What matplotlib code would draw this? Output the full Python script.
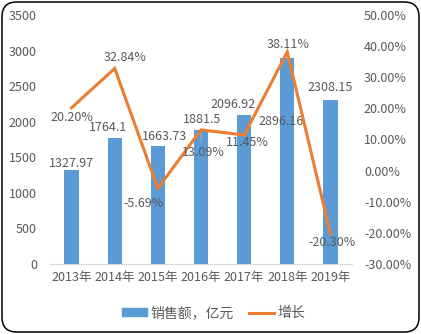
import matplotlib
matplotlib.use("Agg")
import matplotlib.pyplot as plt
from matplotlib.patches import FancyBboxPatch, Patch
from matplotlib.lines import Line2D

plt.rcParams['font.family'] = ['Noto Sans CJK SC', 'DejaVu Sans']

years = ["2013年", "2014年", "2015年", "2016年", "2017年", "2018年", "2019年"]
sales = [1327.97, 1764.1, 1663.73, 1881.5, 2096.92, 2896.16, 2308.15]
growth = [0.2020, 0.3284, -0.0569, 0.1309, 0.1145, 0.3811, -0.2030]
sales_labels = ["1327.97", "1764.1", "1663.73", "1881.5", "2096.92", "2896.16", "2308.15"]
growth_labels = ["20.20%", "32.84%", "-5.69%", "13.09%", "11.45%", "38.11%", "-20.30%"]
left_ticks = [0, 500, 1000, 1500, 2000, 2500, 3000, 3500]
right_ticks = [-0.3, -0.2, -0.1, 0.0, 0.1, 0.2, 0.3, 0.4, 0.5]

# label offsets in pixels (dx, dy up)
sales_off = [(0, 6.5), (-7, 10.5), (7, 9.6), (1, 11), (-11, 10), (-6, -64), (0, 12)]
growth_off = [(0, -10), (10, 11), (-14, -15), (2, -23), (3, -8), (1, 8), (2, -9)]

BAR = "#5B9BD5"
LINE = "#ED7D31"
TXT = "#595959"
W, H = 421, 334
fig = plt.figure(figsize=(W / 100, H / 100), dpi=100)

ax = fig.add_axes([50 / W, (H - 264) / H, (352 - 50) / W, (264 - 15) / H])
x = list(range(len(years)))
ax.bar(x, sales, width=0.33, color=BAR, zorder=2)
ax.set_xlim(-0.5, 6.5)
ax.set_ylim(0, 3500)
ax.set_yticks(left_ticks)
ax.set_yticklabels([str(t) for t in left_ticks])
ax.set_xticks(x)
ax.set_xticklabels(years)
for s in ["top", "left", "right"]:
    ax.spines[s].set_visible(False)
ax.spines["bottom"].set_color("#D9D9D9")
ax.tick_params(axis="y", length=0, pad=9.4, labelsize=9, labelcolor=TXT)
ax.tick_params(axis="x", length=0, pad=5, labelsize=9, labelcolor=TXT)

ax2 = ax.twinx()
ax2.plot(x, growth, color=LINE, linewidth=2.2, zorder=3, solid_joinstyle="miter")
ax2.set_ylim(-0.3, 0.5)
ax2.set_yticks(right_ticks)
ax2.set_yticklabels([f"{t*100:.2f}%" for t in right_ticks])
for s in ["top", "left", "right", "bottom"]:
    ax2.spines[s].set_visible(False)
ax2.tick_params(axis="y", length=0, pad=8.6, labelsize=9, labelcolor=TXT)

k = 72 / 100
for i, (v, lab) in enumerate(zip(sales, sales_labels)):
    dx, dy = sales_off[i]
    ax.annotate(lab, xy=(i, v), xytext=(dx * k, dy * k), textcoords="offset points",
                ha="center", va="center", fontsize=9, color=TXT, zorder=5)
for i, (g, lab) in enumerate(zip(growth, growth_labels)):
    dx, dy = growth_off[i]
    ax2.annotate(lab, xy=(i, g), xytext=(dx * k, dy * k), textcoords="offset points",
                 ha="center", va="center", fontsize=9, color=TXT, zorder=5)

# leader line for the 2016 growth label
ax2.annotate("", xy=(3, growth[3]), xytext=(0, -12 * k), textcoords="offset points",
             arrowprops=dict(arrowstyle="-", color="#A6A6A6", linewidth=0.8,
                             shrinkA=0, shrinkB=0), zorder=2.5)

handles = [Patch(color=BAR), Line2D([0], [0], color=LINE, linewidth=2.2)]
fig.legend(handles, ["销售额，亿元", "增长"], loc="center",
           bbox_to_anchor=(214 / W, 1 - 313 / H), ncol=2, frameon=False,
           fontsize=10, labelcolor=TXT, handlelength=1.75, handletextpad=0.3,
           columnspacing=1.1, handleheight=0.5)

border = FancyBboxPatch((2 / W, 2 / H), (W - 4) / W, (H - 4) / H,
                        boxstyle="round,pad=0,rounding_size=0.035",
                        transform=fig.transFigure, fill=False,
                        edgecolor="black", linewidth=1.1,
                        mutation_aspect=W / H)
fig.patches.append(border)

fig.savefig("out.png", dpi=100)
